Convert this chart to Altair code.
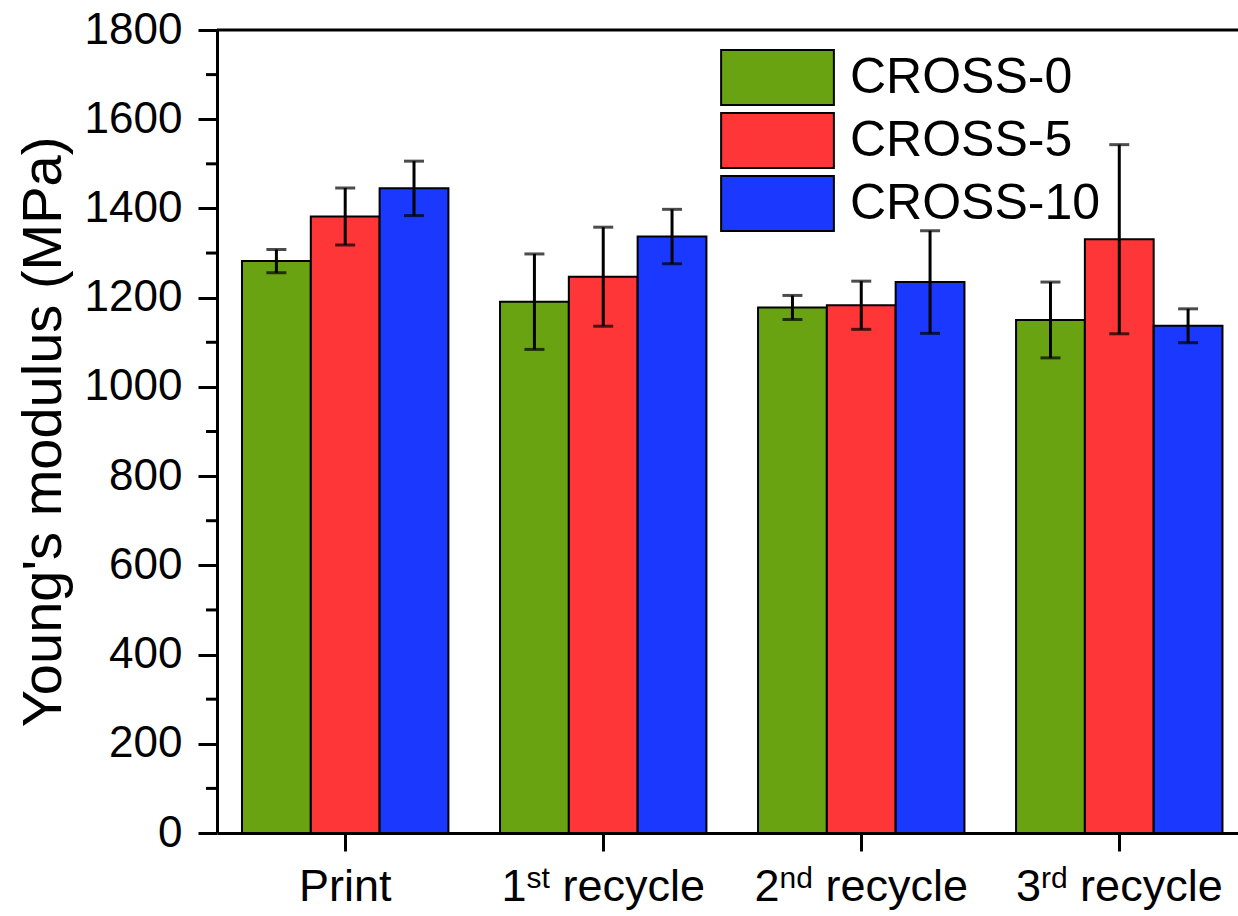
import altair as alt
import pandas as pd

# Young's modulus of printed and recycled samples
stages = ["Print", "1st recycle", "2nd recycle", "3rd recycle"]
series = ["CROSS-0", "CROSS-5", "CROSS-10"]
colors = ["#6aa312", "#fe3638", "#1a38fe"]

modulus_cross0 = [1282, 1191, 1178, 1150]
modulus_cross5 = [1382, 1247, 1183, 1331]
modulus_cross10 = [1445, 1337, 1235, 1137]

error_cross0 = [26, 107, 27, 85]
error_cross5 = [64, 111, 54, 212]
error_cross10 = [61, 61, 115, 38]

# stage label pieces: leading text, superscript, trailing text
label_lead = ["Print", "1", "2", "3"]
label_sup = ["", "st", "nd", "rd"]
label_tail = ["", "recycle", "recycle", "recycle"]

y_ticks = list(range(0, 1801, 200))
y_minor = list(range(100, 1800, 200))

FONT = "Liberation Sans"
W, H = 1021, 803

rows = []
for s, vals, errs in [
    ("CROSS-0", modulus_cross0, error_cross0),
    ("CROSS-5", modulus_cross5, error_cross5),
    ("CROSS-10", modulus_cross10, error_cross10),
]:
    for st, v, e in zip(stages, vals, errs):
        rows.append({"stage": st, "series": s, "value": v, "lo": v - e, "hi": v + e})
df = pd.DataFrame(rows)

x_scale = alt.Scale(domain=stages, paddingInner=0.2, paddingOuter=0.0785, align=0.617)
y_scale = alt.Scale(domain=[0, 1800], nice=False)
off_scale = alt.Scale(domain=series, paddingInner=0, paddingOuter=0)
color_scale = alt.Scale(domain=series, range=colors)

x_axis = alt.Axis(labels=False, title=None, tickSize=18, tickWidth=3,
                  domainWidth=3, domainColor="black", tickColor="black", grid=False)
y_axis = alt.Axis(values=y_ticks, format="d", tickSize=19, tickWidth=3, domainWidth=3,
                  domainColor="black", tickColor="black", grid=False,
                  labelFontSize=44, labelFont=FONT, labelColor="black",
                  labelPadding=16, title="Young's modulus (MPa)",
                  titleFont=FONT, titleFontSize=56, titleFontWeight="normal",
                  titleColor="black", titlePadding=12)

X = alt.X("stage:N", scale=x_scale, axis=x_axis)
XO = alt.XOffset("series:N", scale=off_scale)

base = alt.Chart(df)

bars = base.mark_bar(stroke="black", strokeWidth=2, opacity=1).encode(
    x=X, xOffset=XO,
    y=alt.Y("value:Q", scale=y_scale, axis=y_axis),
    color=alt.Color("series:N", scale=color_scale,
                    legend=alt.Legend(title=None, orient="none", legendX=503, legendY=19,
                                      padding=0, labelFont=FONT, labelFontSize=50,
                                      labelColor="black", rowPadding=0,
                                      symbolType="M-2.05,-1H2.05V1H-2.05Z",
                                      symbolSize=3025, symbolOffset=29, labelOffset=44,
                                      symbolStrokeColor="black", symbolStrokeWidth=2,
                                      symbolOpacity=1, labelLimit=0)),
)

whiskers = base.mark_rule(color="black", strokeWidth=3).encode(
    x=X, xOffset=XO,
    y=alt.Y("lo:Q", scale=y_scale, axis=y_axis), y2="hi:Q",
)
caps_hi = base.mark_tick(color="black", thickness=3, size=20, orient="horizontal").encode(
    x=X, xOffset=XO, y=alt.Y("hi:Q", scale=y_scale, axis=y_axis),
)
caps_lo = base.mark_tick(color="black", thickness=3, size=20, orient="horizontal").encode(
    x=X, xOffset=XO, y=alt.Y("lo:Q", scale=y_scale, axis=y_axis),
)

# minor ticks on the y axis
minor = alt.Chart(pd.DataFrame({"v": y_minor})).mark_rule(color="black", strokeWidth=3).encode(
    y=alt.Y("v:Q", scale=y_scale, axis=y_axis), x=alt.value(-11), x2=alt.value(0),
)

# top frame line
top_line = alt.Chart(pd.DataFrame({"v": [1800]})).mark_rule(color="black", strokeWidth=3).encode(
    y=alt.Y("v:Q", scale=y_scale, axis=y_axis), x=alt.value(0), x2=alt.value(W),
)

# stage labels with superscripts
CHAR_W = {"P": .667, "r": .333, "i": .222, "n": .556, "t": .278, "1": .556, "2": .556,
          "3": .556, "s": .5, "d": .556, "e": .556, "c": .5, "y": .5, "l": .222, " ": .278}


def text_width(s, size):
    return sum(CHAR_W.get(ch, .556) for ch in s) * size


FS, SFS = 45, 30
label_layers = []
for st, lead, sup, tail in zip(stages, label_lead, label_sup, label_tail):
    w_lead = text_width(lead, FS)
    w_sup = text_width(sup, SFS)
    w_gap = text_width(" ", FS) if tail else 0
    w_tail = text_width(tail, FS)
    start = -(w_lead + w_sup + w_gap + w_tail) / 2
    one = pd.DataFrame({"stage": [st], "lead": [lead], "sup": [sup], "tail": [tail]})
    parts = [("lead", FS, H + 68, start)]
    if sup:
        parts.append(("sup", SFS, H + 55, start + w_lead))
    if tail:
        parts.append(("tail", FS, H + 68, start + w_lead + w_sup + w_gap))
    for field, size, ypos, dx in parts:
        label_layers.append(
            alt.Chart(one).mark_text(font=FONT, fontSize=size, align="left",
                                     baseline="alphabetic", dx=dx, color="black").encode(
                x=X,
                y=alt.value(ypos),
                text=f"{field}:N",
            )
        )

chart = alt.layer(bars, whiskers, caps_hi, caps_lo, minor, top_line, *label_layers).properties(
    width=W, height=H,
    padding={"left": 217, "top": 30, "right": 0, "bottom": 81},
    autosize=alt.AutoSizeParams(type="none"),
).configure_view(stroke=None).configure(background="white")

chart.save("out.html", embed_options={"renderer": "svg", "actions": False})
